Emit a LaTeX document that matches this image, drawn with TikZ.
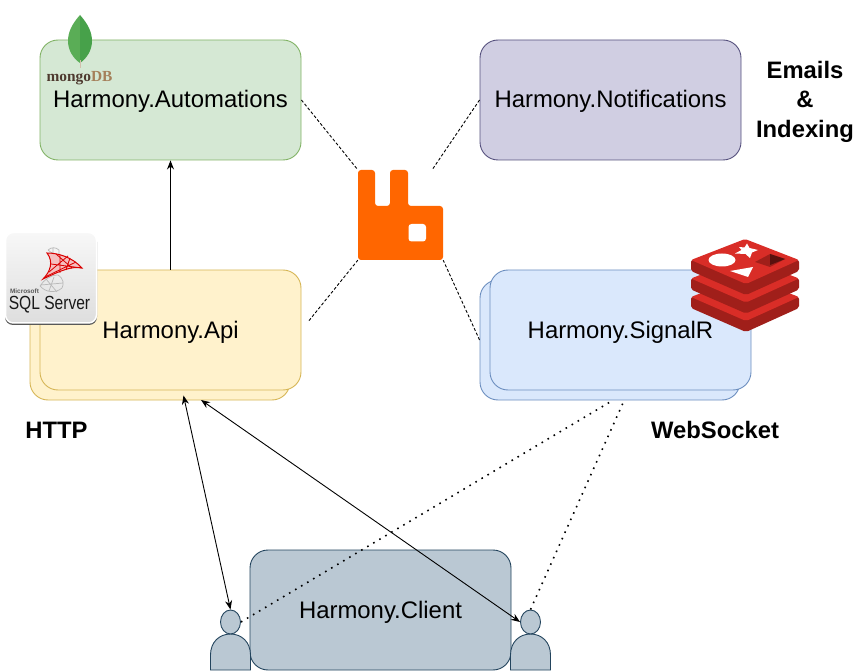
\documentclass[tikz,border=0pt]{standalone}
\usepackage{fontspec}
\setmainfont{Liberation Sans}
\newfontfamily\serifface{Liberation Serif}
\usetikzlibrary{arrows.meta,shapes.geometric}
\definecolor{autofill}{HTML}{D5E8D4}
\definecolor{autoline}{HTML}{82B366}
\definecolor{notifill}{HTML}{D0CEE2}
\definecolor{notiline}{HTML}{56517E}
\definecolor{apifill}{HTML}{FFF2CC}
\definecolor{apiline}{HTML}{D6B656}
\definecolor{sigfill}{HTML}{DAE8FC}
\definecolor{sigline}{HTML}{6C8EBF}
\definecolor{clifill}{HTML}{BAC8D3}
\definecolor{cliline}{HTML}{23445D}
\definecolor{rabbit}{HTML}{FF6600}
\definecolor{redisred}{HTML}{D92D27}
\definecolor{redisdark}{HTML}{A01F1A}
\definecolor{leafa}{HTML}{5AAD56}
\definecolor{leafb}{HTML}{47A14A}
\tikzset{
  hbox/.style={draw, rounded corners=18pt, minimum width=261pt, minimum height=120pt,
    inner sep=0pt, line width=0.9pt, text height=16pt, text depth=0pt,
    font=\fontsize{23.9pt}{28pt}\selectfont},
  tag/.style={align=center, inner sep=0pt, font=\fontsize{23.8pt}{29.5pt}\selectfont\bfseries},
  dashline/.style={densely dashed, line width=0.9pt},
  dotline/.style={line width=1.6pt, dash pattern=on 1.6pt off 5.4pt},
  arrowline/.style={line width=0.9pt, -{Stealth[length=9pt,width=7pt]}},
  twoway/.style={line width=0.9pt, {Stealth[length=9pt,width=7pt]}-{Stealth[length=9pt,width=7pt]}},
}
\begin{document}
\begin{tikzpicture}[x=1pt,y=-1pt]
\useasboundingbox (0,0) rectangle (855,671);
% boxes
\node[hbox, fill=autofill, draw=autoline] (auto) at (170.5,100) {Harmony.Automations};
\node[hbox, fill=notifill, draw=notiline] (noti) at (610.5,100) {Harmony.Notifications};
\node[hbox, fill=apifill, draw=apiline, minimum width=260pt] (apiback) at (160,340) {};
\node[hbox, fill=apifill, draw=apiline] (api) at (170.5,330) {Harmony.Api};
\node[hbox, fill=sigfill, draw=sigline, minimum width=260pt] (sigback) at (610,340) {};
\node[hbox, fill=sigfill, draw=sigline] (sig) at (620.5,330) {Harmony.SignalR};
\node[hbox, fill=clifill, draw=cliline] (client) at (380.5,610) {Harmony.Client};
% users
\foreach \x/\n in {230.5/userl, 530.5/userr}{
  \draw[fill=clifill, draw=cliline, line width=0.9pt] (\x-20,670) -- (\x-20,655)
    .. controls (\x-20,642) and (\x-11,634) .. (\x,634)
    .. controls (\x+11,634) and (\x+20,642) .. (\x+20,655) -- (\x+20,670) -- cycle;
  \node[ellipse, draw=cliline, fill=clifill, line width=0.9pt, inner sep=0pt,
    minimum width=20pt, minimum height=24pt] (\n) at (\x,622) {};
}
% rabbit
\node[minimum width=85pt, minimum height=90pt, inner sep=0pt] (mq) at (400.5,215) {};
\fill[rabbit, rounded corners=3pt] (358,170) -- (375,170) -- (375,206) -- (390,206) -- (390,170)
  -- (408,170) -- (408,206) -- (443,206) -- (443,260) -- (358,260) -- cycle;
\fill[white, rounded corners=3pt] (408.5,224) rectangle (426,241.5);
\coordinate (mqne) at (432,170);
% connectors
\draw[dashline] (auto.east) -- (mq.north west);
\draw[dashline] (noti.west) -- (mqne);
\draw[dashline, shorten <=12pt] (api.east) -- (mq.south west);
\draw[dashline] (sigback.west) -- (mq.south east);
\draw[arrowline] (api.north) -- (auto.south);
\coordinate (apiinl) at (183.5,395.5);
\coordinate (apiinr) at (201,400);
\coordinate (sigoutl) at (610,402);
\coordinate (sigoutr) at (623,403);
\draw[twoway] (apiinl) -- (userl.north);
\draw[twoway] (apiinr) -- (userr.west);
\draw[dotline] (userl.east) -- (sigoutl);
\draw[dotline] (userr.north) -- (sigoutr);
% labels
\node[tag] (emails) at (805,101.5) {Emails\\\&\\Indexing};
\node[tag] (http) at (56.5,430) {HTTP};
\node[tag] (ws) at (715,430) {WebSocket};
% mongo
\fill[leafa] (80,15) .. controls (72,24) and (68,32) .. (68,41)
  .. controls (68,51) and (74,59) .. (80,63) -- cycle;
\fill[leafb] (80,15) .. controls (88,24) and (92,32) .. (92,41)
  .. controls (92,51) and (86,59) .. (80,63) -- cycle;
\draw[black!25!brown!40, line width=1pt] (80,60) -- (80,68);
\node[inner sep=0pt, font=\serifface\bfseries\fontsize{15.4pt}{18pt}\selectfont] (mongo) at (79.5,78.5)
  {\textcolor[HTML]{4E3A2F}{mongo}\textcolor[HTML]{A5805A}{DB}};
% sql server
\fill[black!65, rounded corners=8pt] (5,234) rectangle (97,325);
\draw[top color=black!3, bottom color=black!13, draw=white, line width=1.5pt, rounded corners=8pt]
  (5.5,232.5) rectangle (96.5,323);
\draw[black!28, line width=0.7pt] (48,250) .. controls (51,247) and (56,247) .. (59,250)
  (48,250) .. controls (51,253) and (55,254) .. (59,256)
  (59,250) -- (59,256) (53,248) -- (53,254)
  (58,275) .. controls (50,275) and (44,280) .. (40,286) .. controls (45,292) and (55,294) .. (62,288)
  (58,275) .. controls (64,279) and (64,284) .. (62,288)
  (46,279) -- (57,292) (54,277) -- (49,291) (41,285) -- (63,283);
\draw[red!85!black, fill=red!85!black!25, line width=1pt] (47,253) .. controls (58,253) and (72,257) .. (82,268)
  .. controls (72,266) and (62,270) .. (43,279)
  .. controls (50,272) and (54,262) .. (47,253) -- cycle;
\draw[red!85!black, line width=0.8pt] (51,264) -- (82,268) (49,272) -- (68,256) (60,273) -- (60,255)
  (70,258) -- (66,270) (45,277) -- (76,262) (56,254) -- (72,268);
\node[inner sep=0pt, font=\bfseries\fontsize{6.4pt}{8pt}\selectfont, color=black!65] (ms) at (24.5,291.5) {Microsoft};
\node[inner sep=0pt, color=black!90, font=\fontsize{19pt}{22pt}\selectfont] (sql) at (49.5,305)
  {\scalebox{0.82}[1]{SQL Server}};
% redis
\foreach \y in {37,18.5,0}{
  \fill[redisdark, rounded corners=2pt] (691,260+\y) -- (691,271+\y) -- (746,295+\y) -- (799,271+\y) -- (799,260+\y) -- cycle;
  \fill[redisred, rounded corners=2pt] (691,260+\y) -- (745,239+\y) -- (799,260+\y) -- (746,284+\y) -- cycle;
}
\fill[white] (722,260) ellipse (13.5pt and 6.5pt);
\fill[white] (730,271) -- (753,267) -- (748,277) -- cycle;
\fill[white] (747,243.5) -- (749.5,248) -- (758,250) -- (752,252.5) -- (750,258) -- (745.5,254)
  -- (735,253.5) -- (741.5,250) -- (739,247) -- (744.5,247.5) -- cycle;
\fill[redisdark] (755,262) -- (770,254) -- (785,259) -- (770,267) -- cycle;
\fill[black!45!redisdark] (770,254) -- (785,259) -- (770,265) -- cycle;
\end{tikzpicture}
\end{document}
